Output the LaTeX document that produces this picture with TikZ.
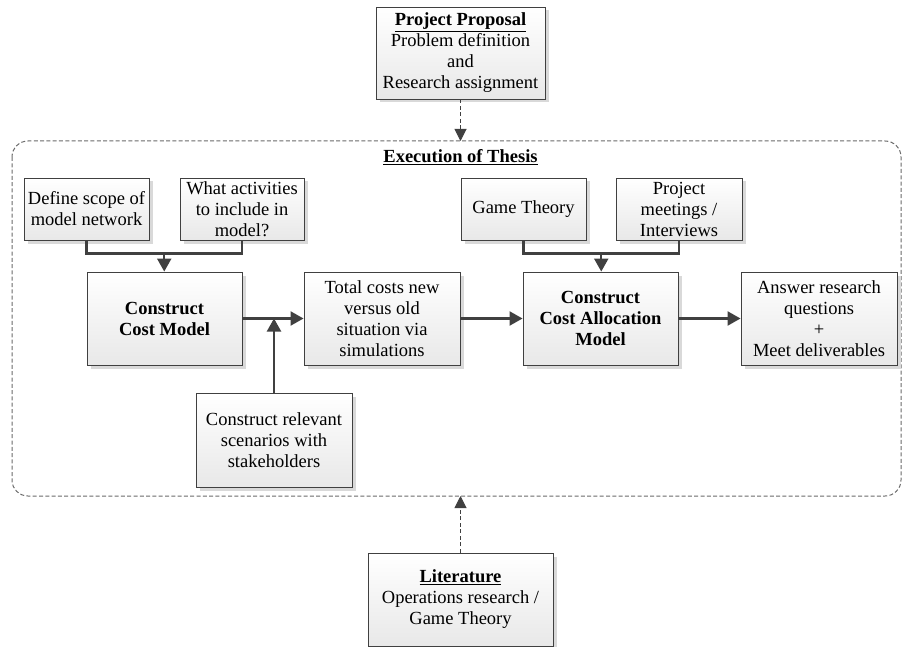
\documentclass[tikz,border=0pt]{standalone}
\usepackage{fontspec}
\setmainfont{Liberation Serif}
\usetikzlibrary{arrows.meta,shadows,calc}
\definecolor{edgecol}{HTML}{404040}
\definecolor{framecol}{HTML}{6A6A6A}
\tikzset{
  box/.style={draw=edgecol, line width=0.9pt, shading=axis, top color=white, bottom color=black!9,
    drop shadow={shadow xshift=3.5pt, shadow yshift=-3.5pt, fill=black!15, opacity=1},
    align=center, inner sep=2pt, font=\fontsize{18.5}{21}\selectfont, text=black},
  conn/.style={draw=edgecol, line width=2.2pt, -{Triangle[length=13pt,width=14pt]}},
  plainconn/.style={draw=edgecol, line width=2.2pt},
  dconn/.style={draw=edgecol, line width=1pt, dash pattern=on 4pt off 2.5pt, -{Triangle[length=12pt,width=12pt]}},
}
\begin{document}
\begin{tikzpicture}[x=1pt,y=-1pt]
\useasboundingbox (0,0) rectangle (902,647);
% execution frame
\draw[draw=framecol, line width=1pt, dash pattern=on 4pt off 2.3pt, rounded corners=16pt] (12,141) rectangle (901,496);
\node[font=\fontsize{18.5}{21}\selectfont] (exec) at (460.5,157) {\underline{\textbf{Execution of Thesis}}};
\coordinate (exectop) at (460.5,141);
\coordinate (execbot) at (460.5,496);

\node[box, minimum width=169pt, minimum height=92pt] (prop) at (460.5,53)
  {\underline{\textbf{Project Proposal}}\\Problem definition\\and\\Research assignment};
\node[box, minimum width=185pt, minimum height=93pt] (lit) at (460.5,599.5)
  {\underline{\textbf{Literature}}\\Operations research /\\Game Theory};

\node[box, minimum width=125pt, minimum height=62pt] (def) at (86.5,209) {Define scope of\\model network};
\node[box, minimum width=124pt, minimum height=62pt] (what) at (242,209) {What activities\\to include in\\model?};
\node[box, minimum width=155pt, minimum height=93pt] (ccm) at (164.5,318.5) {\textbf{Construct}\\\textbf{Cost Model}};
\node[box, minimum width=156pt, minimum height=93pt] (tot) at (382,318.5) {Total costs new\\versus old\\situation via\\simulations};
\node[box, minimum width=156pt, minimum height=94pt] (scen) at (274,440) {Construct relevant\\scenarios with\\stakeholders};
\node[box, minimum width=125pt, minimum height=62pt] (game) at (523.5,209) {Game Theory};
\node[box, minimum width=126pt, minimum height=62pt] (meet) at (679,209) {Project\\meetings /\\Interviews};
\node[box, minimum width=155pt, minimum height=93pt] (ccam) at (600.5,318.5) {\textbf{Construct}\\\textbf{Cost Allocation}\\\textbf{Model}};
\node[box, minimum width=156pt, minimum height=93pt] (ans) at (819,318.5) {Answer research\\questions\\+\\Meet deliverables};

% connectors
\draw[dconn] (prop.south) -- (exectop);
\draw[dconn] (lit.north) -- (execbot);

\coordinate (j1) at ($(def.south)!0.5!(what.south)+(0,13)$);
\draw[plainconn] (def.south) |- (j1) -| (what.south);
\draw[conn] (j1) -- (j1 |- ccm.north);

\coordinate (j2) at ($(game.south)!0.5!(meet.south)+(0,13)$);
\draw[plainconn] (game.south) |- (j2) -| (meet.south);
\draw[conn] (j2) -- (j2 |- ccam.north);

\draw[conn] (ccm.east) -- (tot.west);
\coordinate (j3) at (scen.north |- ccm.east);
\draw[conn] (scen.north) -- (j3);
\draw[conn] (tot.east) -- (ccam.west);
\draw[conn] (ccam.east) -- (ans.west);
\end{tikzpicture}
\end{document}
